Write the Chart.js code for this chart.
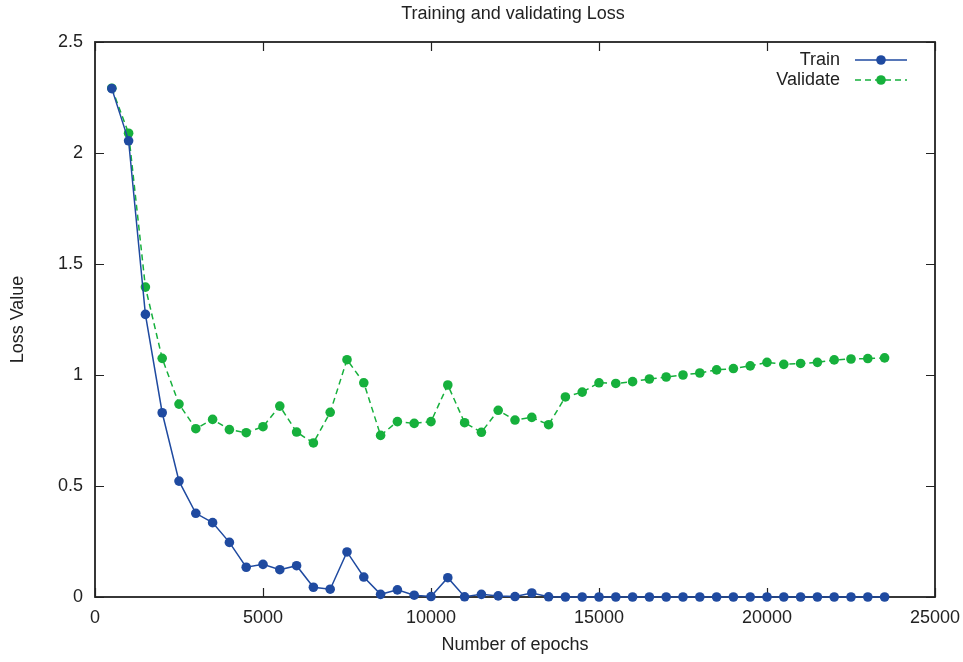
<!DOCTYPE html>
<html>
<head>
<meta charset="utf-8">
<script src="https://cdn.jsdelivr.net/npm/chart.js@4.4.1/dist/chart.umd.min.js"></script>
<style>
  html, body { margin: 0; padding: 0; background: #fff; }
  #wrap { width: 963px; height: 662px; }
</style>
</head>
<body>
<div id="wrap"><canvas id="lossChart" width="963" height="662"></canvas></div>
<script>
// --- data ---
const epochs = [500, 1000, 1500, 2000, 2500, 3000, 3500, 4000, 4500, 5000,
                5500, 6000, 6500, 7000, 7500, 8000, 8500, 9000, 9500, 10000,
                10500, 11000, 11500, 12000, 12500, 13000, 13500, 14000, 14500, 15000,
                15500, 16000, 16500, 17000, 17500, 18000, 18500, 19000, 19500, 20000,
                20500, 21000, 21500, 22000, 22500, 23000, 23500];

const trainLoss = [2.29, 2.055, 1.273, 0.830, 0.522, 0.377, 0.335, 0.246, 0.134, 0.147,
                   0.123, 0.141, 0.044, 0.035, 0.203, 0.090, 0.012, 0.032, 0.008, 0.002,
                   0.087, 0.001, 0.012, 0.005, 0.002, 0.018, 0.001, 0, 0, 0,
                   0, 0, 0, 0, 0, 0, 0, 0, 0, 0,
                   0, 0, 0, 0, 0, 0, 0];

const validateLoss = [2.292, 2.089, 1.396, 1.075, 0.869, 0.758, 0.800, 0.754, 0.740, 0.767,
                      0.860, 0.743, 0.694, 0.832, 1.069, 0.965, 0.728, 0.790, 0.782, 0.790,
                      0.955, 0.785, 0.742, 0.841, 0.797, 0.809, 0.776, 0.901, 0.923, 0.965,
                      0.962, 0.970, 0.982, 0.991, 1.000, 1.009, 1.023, 1.029, 1.041, 1.057,
                      1.048, 1.052, 1.057, 1.068, 1.072, 1.074, 1.077];

const xTicks = [0, 5000, 10000, 15000, 20000, 25000];
const yTicks = [0, 0.5, 1, 1.5, 2, 2.5];
const chartTitle = 'Training and validating Loss';

const FONT = 'Liberation Sans, Arial, sans-serif';
const BLUE = '#1f4aa0';
const GREEN = '#16b03c';
const INK = '#222';

// gnuplot style box: frame + inward ticks on all four sides
const framePlugin = {
    id: 'frame',
    beforeDatasetsDraw(chart) {
        const { ctx, chartArea: a, scales } = chart;
        const len = 9;
        ctx.save();
        ctx.strokeStyle = INK;
        ctx.lineWidth = 1.2;
        ctx.beginPath();
        xTicks.forEach(v => {
            const px = Math.round(scales.x.getPixelForValue(v)) + 0.5;
            ctx.moveTo(px, a.bottom); ctx.lineTo(px, a.bottom - len);
            ctx.moveTo(px, a.top); ctx.lineTo(px, a.top + len);
        });
        yTicks.forEach(v => {
            const py = Math.round(scales.y.getPixelForValue(v)) + 0.5;
            ctx.moveTo(a.left, py); ctx.lineTo(a.left + len, py);
            ctx.moveTo(a.right, py); ctx.lineTo(a.right - len, py);
        });
        ctx.stroke();
        ctx.lineWidth = 1.8;
        ctx.strokeRect(a.left, a.top, a.right - a.left, a.bottom - a.top);

        // title centred over the plot box
        ctx.fillStyle = INK;
        ctx.font = '18px ' + FONT;
        ctx.textAlign = 'center';
        ctx.textBaseline = 'middle';
        ctx.fillText(chartTitle, (a.left + a.right) / 2 - 2, 14);
        ctx.restore();
    },
    // legend inside the top-right corner, text left of the sample
    afterDatasetsDraw(chart) {
        const { ctx } = chart;
        const textRight = 840, lineL = 855, lineR = 907;
        ctx.save();
        ctx.font = '18px ' + FONT;
        ctx.textAlign = 'right';
        ctx.textBaseline = 'middle';
        chart.data.datasets.forEach((ds, i) => {
            const y = 60 + i * 20;
            ctx.fillStyle = INK;
            ctx.fillText(ds.label, textRight, y);
            ctx.strokeStyle = ds.borderColor;
            ctx.lineWidth = ds.borderWidth;
            ctx.setLineDash(ds.borderDash || []);
            ctx.beginPath();
            ctx.moveTo(lineL, y); ctx.lineTo(lineR, y);
            ctx.stroke();
            ctx.setLineDash([]);
            ctx.fillStyle = ds.pointBackgroundColor;
            ctx.beginPath();
            ctx.arc((lineL + lineR) / 2, y, ds.pointRadius, 0, Math.PI * 2);
            ctx.fill();
        });
        ctx.restore();
    }
};

new Chart(document.getElementById('lossChart'), {
    type: 'line',
    data: {
        datasets: [
            {
                label: 'Train',
                data: epochs.map((e, i) => ({ x: e, y: trainLoss[i] })),
                borderColor: BLUE,
                backgroundColor: BLUE,
                pointBackgroundColor: BLUE,
                pointBorderWidth: 0,
                borderWidth: 1.5,
                pointRadius: 4.8,
                tension: 0,
                clip: false
            },
            {
                label: 'Validate',
                data: epochs.map((e, i) => ({ x: e, y: validateLoss[i] })),
                borderColor: GREEN,
                backgroundColor: GREEN,
                pointBackgroundColor: GREEN,
                pointBorderWidth: 0,
                borderWidth: 1.5,
                borderDash: [6, 4],
                pointRadius: 4.8,
                tension: 0,
                clip: false
            }
        ]
    },
    options: {
        responsive: false,
        animation: false,
        devicePixelRatio: 1,
        layout: { padding: { left: 0, right: 28, top: 42, bottom: 0 } },
        plugins: {
            legend: { display: false },
            tooltip: { enabled: false },
            title: { display: false }
        },
        scales: {
            x: {
                type: 'linear',
                min: 0,
                max: 25000,
                afterBuildTicks: s => { s.ticks = xTicks.map(v => ({ value: v })); },
                afterFit: s => { s.height = 65; s.paddingRight = 0; s.paddingLeft = 0; },
                grid: { display: false, drawTicks: false },
                border: { display: false },
                ticks: {
                    color: INK,
                    padding: 10,
                    maxRotation: 0,
                    font: { family: FONT, size: 18 },
                    callback: v => String(v)
                },
                title: {
                    display: true,
                    text: 'Number of epochs',
                    color: INK,
                    font: { family: FONT, size: 18, lineHeight: 1.2 },
                    padding: { top: 0, bottom: 6 }
                }
            },
            y: {
                min: 0,
                max: 2.5,
                afterBuildTicks: s => { s.ticks = yTicks.map(v => ({ value: v })); },
                afterFit: s => { s.width = 95; s.paddingTop = 0; s.paddingBottom = 0; },
                grid: { display: false, drawTicks: false },
                border: { display: false },
                ticks: {
                    color: INK,
                    padding: 12,
                    font: { family: FONT, size: 18 },
                    callback: v => String(v)
                },
                title: {
                    display: true,
                    text: 'Loss Value',
                    color: INK,
                    font: { family: FONT, size: 18, lineHeight: 1.2 },
                    padding: { top: 7, bottom: 0 }
                }
            }
        }
    },
    plugins: [framePlugin]
});
</script>
</body>
</html>
